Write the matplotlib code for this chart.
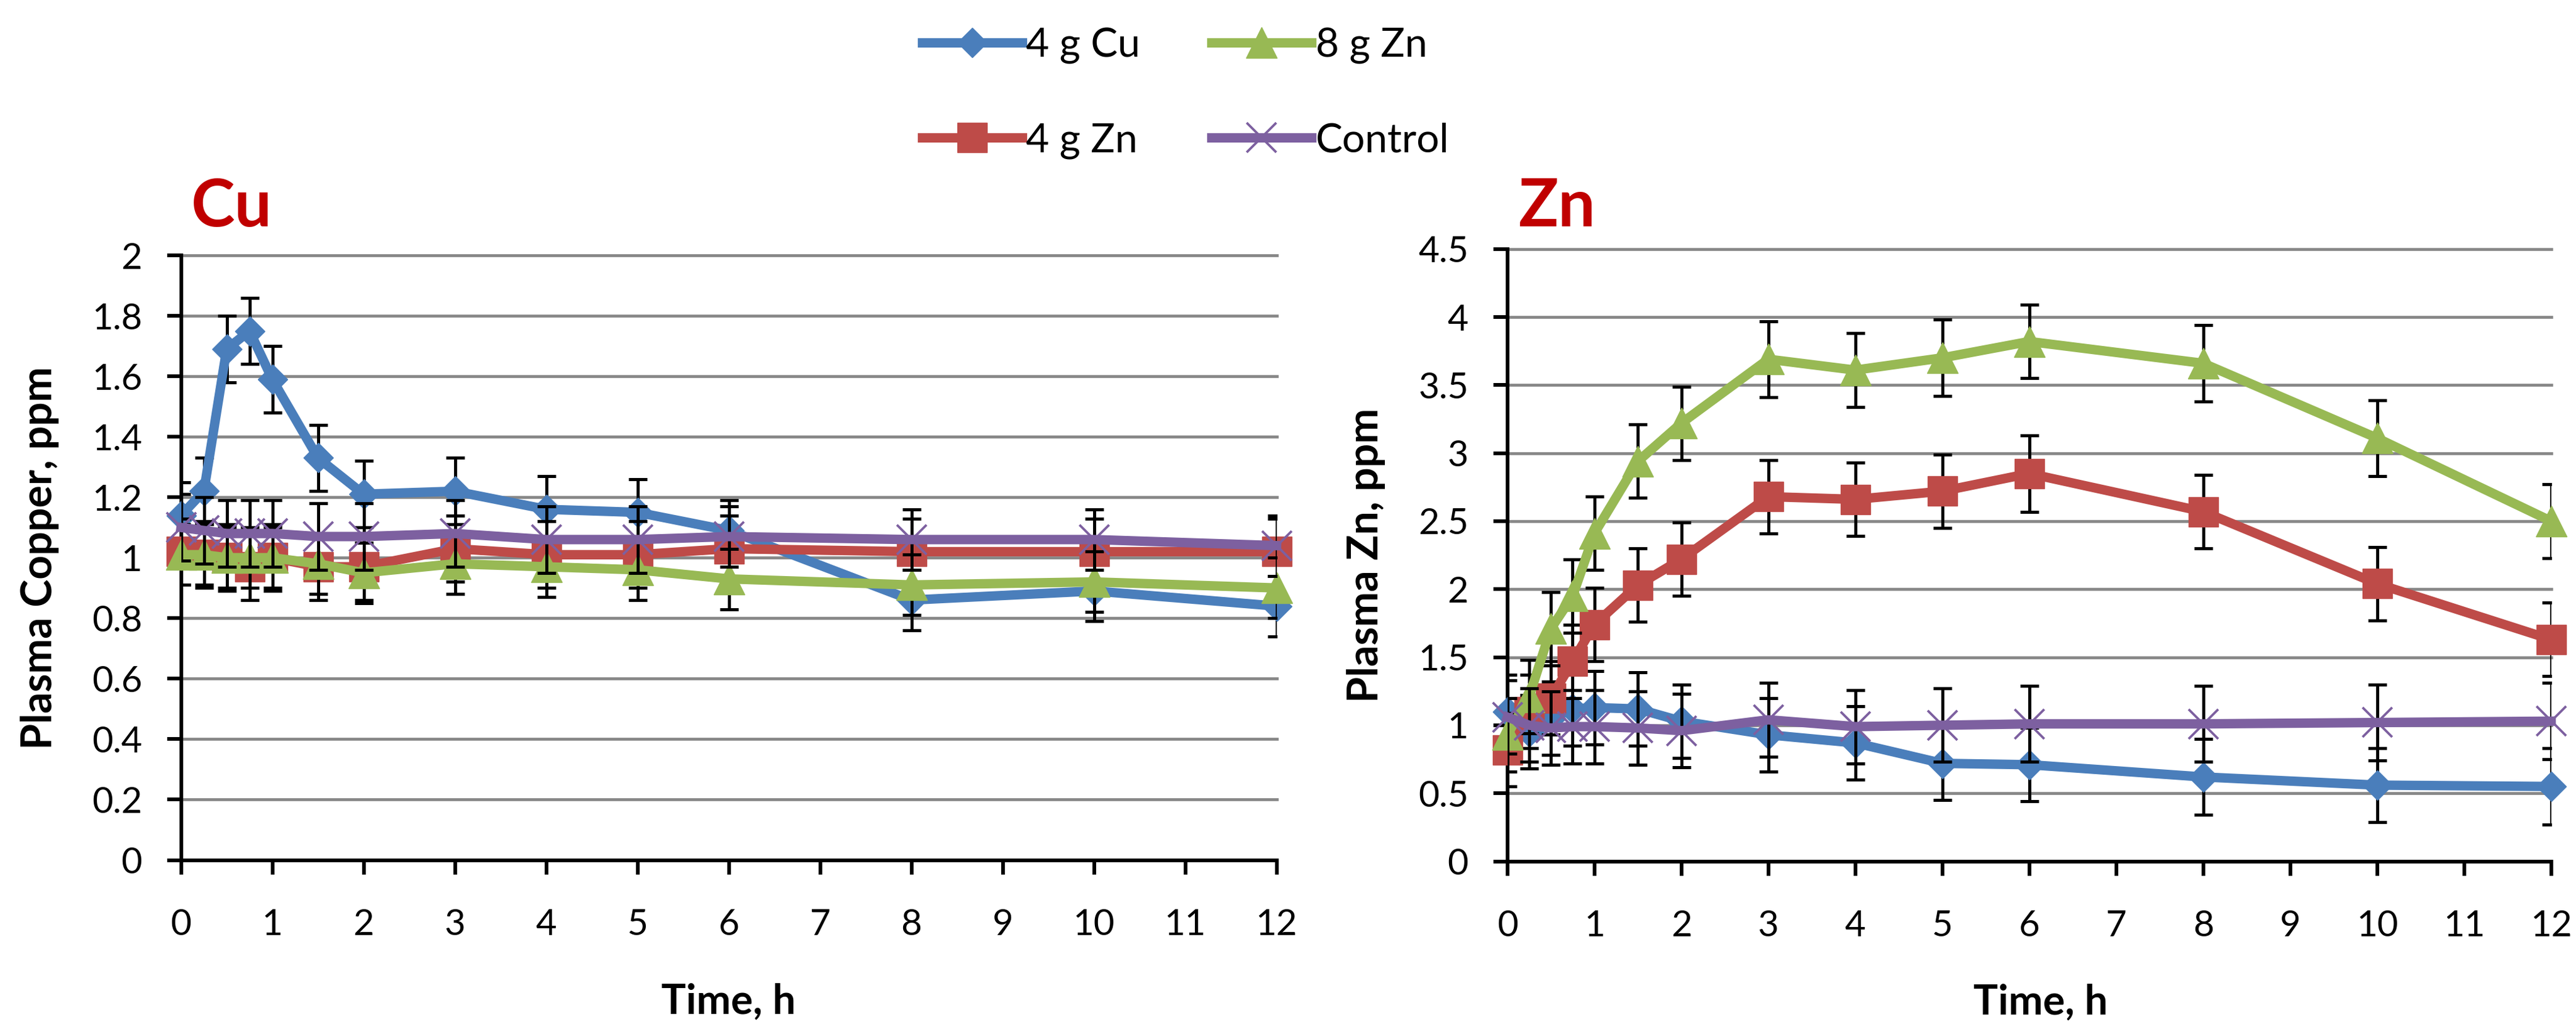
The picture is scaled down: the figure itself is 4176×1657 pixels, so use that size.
import matplotlib
matplotlib.use("Agg")
import matplotlib.pyplot as plt
import numpy as np

plt.rcParams['font.family'] = ['Lato', 'DejaVu Sans']

# sampling times, h
hours = [0, 0.25, 0.5, 0.75, 1, 1.5, 2, 3, 4, 5, 6, 8, 10, 12]
names = ['4 g Cu', '4 g Zn', '8 g Zn', 'Control']

# plasma copper, ppm (mean and error)
cu_4g_cu = [1.14, 1.22, 1.69, 1.75, 1.59, 1.33, 1.21, 1.22, 1.16, 1.15, 1.09, 0.86, 0.89, 0.84]
cu_4g_zn = [1.02, 1.01, 1.00, 0.97, 1.00, 0.97, 0.97, 1.03, 1.01, 1.01, 1.03, 1.02, 1.02, 1.02]
cu_8g_zn = [1.01, 1.01, 1.00, 1.00, 1.00, 0.98, 0.95, 0.98, 0.97, 0.96, 0.93, 0.91, 0.92, 0.90]
cu_ctrl = [1.10, 1.09, 1.08, 1.08, 1.08, 1.07, 1.07, 1.08, 1.06, 1.06, 1.07, 1.06, 1.06, 1.04]
cu_err_4g_cu = [0.11, 0.11, 0.11, 0.11, 0.11, 0.11, 0.11, 0.11, 0.11, 0.11, 0.10, 0.10, 0.10, 0.10]
cu_err_4g_zn = [0.11, 0.11, 0.11, 0.11, 0.11, 0.11, 0.11, 0.11, 0.11, 0.11, 0.11, 0.11, 0.11, 0.11]
cu_err_8g_zn = [0.10, 0.10, 0.10, 0.10, 0.10, 0.10, 0.10, 0.10, 0.10, 0.10, 0.10, 0.10, 0.10, 0.10]
cu_err_ctrl = [0.11, 0.11, 0.11, 0.11, 0.11, 0.11, 0.11, 0.11, 0.11, 0.11, 0.10, 0.10, 0.10, 0.10]

# plasma zinc, ppm (mean and error)
zn_4g_cu = [1.10, 0.95, 1.05, 1.12, 1.13, 1.12, 1.03, 0.93, 0.87, 0.72, 0.71, 0.62, 0.56, 0.55]
zn_4g_zn = [0.82, 1.10, 1.20, 1.47, 1.74, 2.03, 2.22, 2.68, 2.66, 2.72, 2.85, 2.57, 2.04, 1.63]
zn_8g_zn = [0.93, 1.21, 1.71, 1.95, 2.41, 2.94, 3.22, 3.69, 3.61, 3.70, 3.82, 3.66, 3.11, 2.50]
zn_ctrl = [1.06, 1.00, 0.98, 0.99, 0.99, 0.98, 0.96, 1.04, 0.99, 1.00, 1.01, 1.01, 1.02, 1.03]
zn_err_4g_cu = [0.27, 0.27, 0.27, 0.27, 0.27, 0.27, 0.27, 0.27, 0.27, 0.27, 0.27, 0.28, 0.27, 0.28]
zn_err_4g_zn = [0.27, 0.27, 0.27, 0.27, 0.27, 0.27, 0.27, 0.27, 0.27, 0.27, 0.28, 0.27, 0.27, 0.27]
zn_err_8g_zn = [0.27, 0.27, 0.27, 0.27, 0.27, 0.27, 0.27, 0.28, 0.27, 0.28, 0.27, 0.28, 0.28, 0.27]
zn_err_ctrl = [0.27, 0.27, 0.27, 0.27, 0.27, 0.27, 0.27, 0.27, 0.27, 0.27, 0.28, 0.28, 0.28, 0.28]

styles = [
    dict(color='#4A7EBB', marker='D', ms=24, mew=1),
    dict(color='#BE4B48', marker='s', ms=35, mew=1),
    dict(color='#98B954', marker='^', ms=36, mew=1),
    dict(color='#7D60A0', marker='x', ms=34, mew=2.8),
]

W, H = 4176, 1657
fig = plt.figure(figsize=(W / 100, H / 100), dpi=100)


def add_panel(left, right, top, bottom):
    return fig.add_axes([left / W, 1 - bottom / H, (right - left) / W, (bottom - top) / H])


def draw_panel(ax, series, errors, ymax, ystep, ylabel, ylab_x, xlab_pos):
    lines = []
    for i, (vals, errs, st) in enumerate(zip(series, errors, styles)):
        ax.errorbar(hours, vals, yerr=errs, fmt='none', ecolor='black',
                    elinewidth=3.6, capsize=11, capthick=3.6, zorder=3 + 2 * i)
        ln, = ax.plot(hours, vals, color=st['color'], lw=11,
                      marker=st['marker'], ms=st['ms'], mfc=st['color'],
                      mec=st['color'], mew=st['mew'], zorder=4 + 2 * i,
                      clip_on=False, solid_joinstyle='round')
        lines.append(ln)

    ax.set_xlim(0, 12)
    ax.set_ylim(0, ymax)
    ax.set_xticks(range(13))
    yt = np.arange(0, ymax + ystep / 2, ystep)
    ax.set_yticks(yt)
    ax.set_yticklabels([f'{v:g}' for v in yt])
    ax.grid(axis='y', color='#878787', lw=3.4)
    for gl in ax.get_ygridlines():
        gl.set_clip_on(False)
    ax.set_axisbelow(True)

    for side in ('top', 'right'):
        ax.spines[side].set_visible(False)
    for side in ('left', 'bottom'):
        ax.spines[side].set_linewidth(4.3)
        ax.spines[side].set_color('black')
    ax.tick_params(direction='out', length=16.5, width=4.3, labelsize=42, colors='black')
    ax.tick_params(axis='x', pad=40)
    ax.tick_params(axis='y', pad=29)

    ax.set_ylabel(ylabel, fontsize=49, fontweight='bold')
    ax.yaxis.set_label_coords(ylab_x, 0.5)
    ax.set_xlabel('Time, h', fontsize=48, fontweight='bold')
    ax.xaxis.set_label_coords(*xlab_pos)
    return lines


ax_cu = add_panel(293.5, 2069.5, 414, 1394.5)
ax_zn = add_panel(2443.7, 4135.7, 403.7, 1396.5)

handles = draw_panel(ax_cu, [cu_4g_cu, cu_4g_zn, cu_8g_zn, cu_ctrl],
                     [cu_err_4g_cu, cu_err_4g_zn, cu_err_8g_zn, cu_err_ctrl],
                     2.0, 0.2, 'Plasma Copper, ppm', -0.111, (0.5, -0.203))
draw_panel(ax_zn, [zn_4g_cu, zn_4g_zn, zn_8g_zn, zn_ctrl],
           [zn_err_4g_cu, zn_err_4g_zn, zn_err_8g_zn, zn_err_ctrl],
           4.5, 0.5, 'Plasma Zn, ppm', -0.117, (0.511, -0.199))

# panel headings
fig.text(310 / W, 1 - 367 / H, 'Cu', color='#C00000', fontsize=77,
         fontweight='bold', ha='left', va='baseline')
fig.text(2462 / W, 1 - 367 / H, 'Zn', color='#C00000', fontsize=77,
         fontweight='bold', ha='left', va='baseline')

fig.legend(handles, names, ncol=2, loc='upper left',
           bbox_to_anchor=(1495 / W, 1 - 44 / H), frameon=False, fontsize=47,
           handlelength=2.48, handletextpad=0.1, columnspacing=1.77,
           labelspacing=1.45, borderpad=0, borderaxespad=0, numpoints=1)

fig.savefig('out.png', dpi=100)
